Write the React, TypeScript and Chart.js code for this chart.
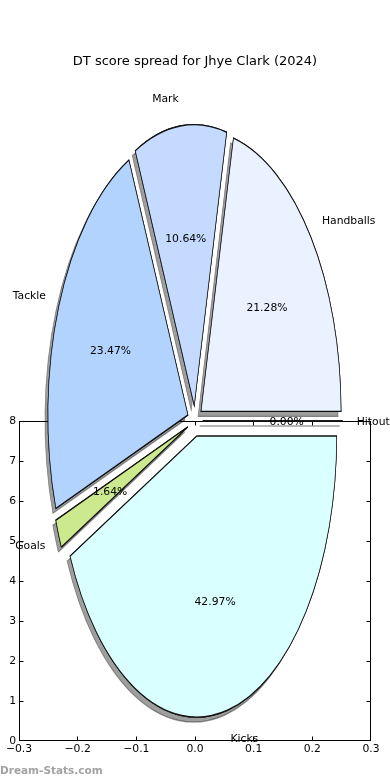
import React, { useEffect, useRef } from 'react';
import { Chart, registerables } from 'chart.js';

Chart.register(...registerables);

// ---------- data ----------
const TITLE = 'DT score spread for Jhye Clark (2024)';
const WATERMARK = 'Dream-Stats.com';
const categories = ['Handballs', 'Mark', 'Tackle', 'Goals', 'Kicks', 'Hitout'];
const shares = [21.28, 10.64, 23.47, 1.64, 42.97, 0.0];
const sliceColors = ['#ebf2ff', '#c4dbff', '#b3d3ff', '#cde98d', '#d9ffff', '#ffffff'];
const xTickValues = [-0.3, -0.2, -0.1, 0.0, 0.1, 0.2, 0.3];
const yTickValues = [0, 1, 2, 3, 4, 5, 6, 7, 8];

// ---------- styling / geometry ----------
const FONT = '"DejaVu Sans", "Noto Sans", sans-serif';
const W = 390;
const H = 780;
const PIE_RADIUS = 140;
const PIE_Y_STRETCH = 281 / 140;
const EXPLODE = 0.055;
const LABEL_DIST = 1.1;
const PCT_DIST = 0.6;
const SHADOW_COLOR = 'rgba(0,0,0,0.38)';
const SHADOW_DX = -3;
const SHADOW_DY = 5;
const LABEL_SIZE = 10.8;
const TEXT_DY = 1.5;

export default function App() {
  const axesRef = useRef<HTMLCanvasElement>(null);
  const pieRef = useRef<HTMLCanvasElement>(null);

  useEffect(() => {
    Chart.defaults.font.family = FONT;
    Chart.defaults.color = '#000';

    const fmtX = (v: any) => {
      const n = Number(v);
      return (Math.abs(n) < 1e-9 ? 0 : n).toFixed(1).replace('-', '\u2212');
    };

    const framePlugin = {
      id: 'frame',
      afterDraw(chart: any) {
        const { ctx, chartArea: a, scales } = chart;
        const L = a.left + 0.5, R = a.right - 0.5, T = a.top + 0.5, B = a.bottom - 0.5;
        ctx.save();
        ctx.strokeStyle = '#000';
        ctx.lineWidth = 1;
        ctx.strokeRect(L, T, R - L, B - T);
        ctx.beginPath();
        scales.x.ticks.forEach((t: any) => {
          const p = Math.min(R, Math.max(L, Math.floor(scales.x.getPixelForValue(t.value)) + 0.5));
          ctx.moveTo(p, B); ctx.lineTo(p, B - 4);
          ctx.moveTo(p, T); ctx.lineTo(p, T + 4);
        });
        scales.y.ticks.forEach((t: any) => {
          const p = Math.min(B, Math.max(T, Math.floor(scales.y.getPixelForValue(t.value)) + 0.5));
          ctx.moveTo(L, p); ctx.lineTo(L + 4, p);
          ctx.moveTo(R, p); ctx.lineTo(R - 4, p);
        });
        ctx.stroke();
        ctx.restore();
      },
    };

    const axes = new Chart(axesRef.current as HTMLCanvasElement, {
      type: 'scatter',
      data: { datasets: [{ data: [] }] },
      options: {
        animation: false,
        responsive: false,
        events: [],
        layout: { padding: { left: 0, right: 0, top: 0, bottom: 0 } },
        scales: {
          x: {
            type: 'linear',
            min: -0.3,
            max: 0.3,
            afterBuildTicks: (s: any) => { s.ticks = xTickValues.map((value) => ({ value })); },
            afterFit: (s: any) => { s.height = 23.9; },
            grid: { display: false, drawTicks: false },
            border: { display: false },
            ticks: { padding: 2, color: '#000', font: { size: LABEL_SIZE }, maxRotation: 0, autoSkip: false, callback: fmtX },
          },
          y: {
            type: 'linear',
            min: 0,
            max: 8,
            afterBuildTicks: (s: any) => { s.ticks = yTickValues.map((value) => ({ value })); },
            afterFit: (s: any) => { s.width = 19; },
            grid: { display: false, drawTicks: false },
            border: { display: false },
            ticks: { padding: 3, color: '#000', font: { size: LABEL_SIZE }, autoSkip: false, callback: (v: any) => String(v) },
          },
          y2: {
            type: 'linear',
            position: 'right',
            min: 0,
            max: 8,
            afterFit: (s: any) => { s.width = 19; },
            grid: { display: false, drawTicks: false },
            border: { display: false },
            ticks: { display: false },
          },
        },
        plugins: {
          legend: { display: false },
          tooltip: { enabled: false },
          title: {
            display: true,
            text: TITLE,
            color: '#000',
            font: { size: 13, weight: 'normal' },
            padding: { top: 54.2, bottom: 351.2 },
          },
          subtitle: {
            display: true,
            text: WATERMARK,
            position: 'bottom',
            align: 'start',
            color: '#a3a3a3',
            font: { size: 10.5, weight: 'bold' },
            padding: { top: 0, bottom: 2.5 },
          },
        },
      } as any,
      plugins: [framePlugin],
    });

    const order = categories.map((_, i) => categories.length - 1 - i);

    const piePlugin = {
      id: 'stretchedExplodedPie',
      beforeDatasetsDraw(chart: any) {
        const ctx = chart.ctx as CanvasRenderingContext2D;
        const arcs = chart.getDatasetMeta(0).data as any[];
        const place = (arc: any) => {
          const mid = (arc.startAngle + arc.endAngle) / 2;
          ctx.translate(arc.x, arc.y);
          ctx.scale(1, PIE_Y_STRETCH);
          ctx.translate(-arc.x, -arc.y);
          ctx.translate(Math.cos(mid) * EXPLODE * arc.outerRadius, Math.sin(mid) * EXPLODE * arc.outerRadius);
        };
        const drawOne = (arc: any) => {
          if (arc.endAngle - arc.startAngle > 0) {
            arc.draw(ctx);
          } else {
            const a = arc.startAngle;
            ctx.beginPath();
            ctx.moveTo(arc.x, arc.y);
            ctx.lineTo(arc.x + Math.cos(a) * arc.outerRadius, arc.y + Math.sin(a) * arc.outerRadius);
            ctx.lineWidth = arc.options.borderWidth;
            ctx.strokeStyle = arc.options.borderColor;
            ctx.stroke();
          }
        };
        for (const arc of arcs) {
          ctx.save();
          ctx.shadowColor = SHADOW_COLOR;
          ctx.shadowOffsetX = SHADOW_DX;
          ctx.shadowOffsetY = SHADOW_DY;
          ctx.shadowBlur = 0;
          place(arc);
          drawOne(arc);
          ctx.restore();
        }
        for (const arc of arcs) {
          ctx.save();
          place(arc);
          drawOne(arc);
          ctx.restore();
        }
        return false;
      },
      afterDraw(chart: any) {
        const ctx = chart.ctx as CanvasRenderingContext2D;
        const arcs = chart.getDatasetMeta(0).data as any[];
        const values = chart.data.datasets[0].data as number[];
        const total = values.reduce((s, v) => s + v, 0);
        ctx.save();
        ctx.font = `${LABEL_SIZE}px ${FONT}`;
        ctx.fillStyle = '#000';
        ctx.textBaseline = 'middle';
        arcs.forEach((arc, i) => {
          const mid = (arc.startAngle + arc.endAngle) / 2;
          const c = Math.cos(mid);
          const s = Math.sin(mid);
          const R = arc.outerRadius;
          const lx = arc.x + (EXPLODE + LABEL_DIST) * R * c;
          const ly = arc.y + (EXPLODE + LABEL_DIST) * R * s * PIE_Y_STRETCH + TEXT_DY;
          ctx.textAlign = c > 0 ? 'left' : 'right';
          ctx.fillText(String(chart.data.labels[i]), lx, ly);
          const px = arc.x + (EXPLODE + PCT_DIST) * R * c;
          const py = arc.y + (EXPLODE + PCT_DIST) * R * s * PIE_Y_STRETCH + TEXT_DY;
          ctx.textAlign = 'center';
          ctx.fillText(`${((values[i] / total) * 100).toFixed(2)}%`, px, py);
        });
        ctx.restore();
      },
    };

    const pie = new Chart(pieRef.current as HTMLCanvasElement, {
      type: 'pie',
      data: {
        labels: order.map((i) => categories[i]),
        datasets: [
          {
            data: order.map((i) => shares[i]),
            backgroundColor: order.map((i) => sliceColors[i]),
            borderColor: '#111111',
            borderWidth: 0.7,
            borderJoinStyle: 'miter',
            offset: 0,
            hoverOffset: 0,
          },
        ],
      },
      options: {
        animation: false,
        responsive: false,
        events: [],
        rotation: 90,
        radius: PIE_RADIUS,
        layout: { padding: { top: 62, right: 0, left: 0, bottom: 0 } },
        plugins: { legend: { display: false }, tooltip: { enabled: false } },
      } as any,
      plugins: [piePlugin],
    });

    return () => {
      axes.destroy();
      pie.destroy();
    };
  }, []);

  const layer: React.CSSProperties = { position: 'absolute', left: 0, top: 0, width: W, height: H };
  return (
    <div style={{ position: 'fixed', left: 0, top: 0, width: W, height: H, background: '#fff' }}>
      <canvas ref={axesRef} width={W} height={H} style={layer} />
      <canvas ref={pieRef} width={W} height={H} style={layer} />
    </div>
  );
}
